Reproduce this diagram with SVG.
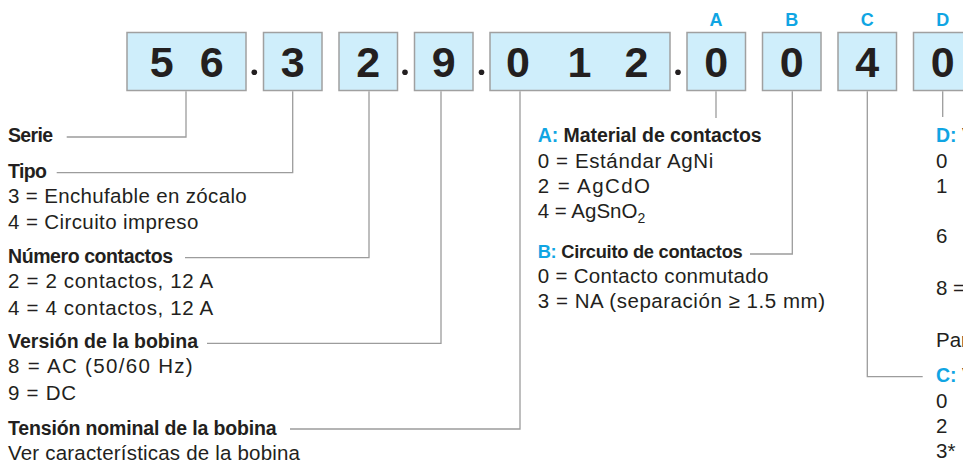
<svg xmlns="http://www.w3.org/2000/svg" width="963" height="467" viewBox="0 0 963 467">
<style>
.box{fill:#cfeefb;stroke:#a0a0a0;stroke-width:1.5}
.dig{font-family:"Liberation Sans",Arial,sans-serif;font-weight:bold;font-size:43px;fill:#231f20;text-anchor:middle}
.lbl{font-family:"Liberation Sans",Arial,sans-serif;font-weight:bold;font-size:18px;fill:#10a5e3;text-anchor:middle}
.t{font-family:"Liberation Sans",Arial,sans-serif;font-size:20.5px;fill:#231f20}
.h{font-family:"Liberation Sans",Arial,sans-serif;font-weight:bold;font-size:19.5px;fill:#231f20}
.hs{font-size:18.3px}
.b{fill:#10a5e3}
.dot{fill:#231f20}
.ln{fill:none;stroke:#9c9c9c;stroke-width:1.3}
</style>
<rect width="963" height="467" fill="#ffffff"/>
<g id="code">
  <g id="box-serie"><rect class="box" x="127" y="32.5" width="119" height="58"/><text class="dig" x="161.7" y="77.3">5</text><text class="dig" x="211.7" y="77.3">6</text></g>
  <circle class="dot" cx="254.3" cy="72.3" r="2.8"/>
  <g id="box-tipo"><rect class="box" x="263.5" y="32.5" width="58.5" height="58"/><text class="dig" x="292.7" y="77.3">3</text></g>
  <g id="box-numero"><rect class="box" x="339" y="32.5" width="58.5" height="58"/><text class="dig" x="368.2" y="77.3">2</text></g>
  <circle class="dot" cx="405" cy="72.3" r="2.8"/>
  <g id="box-version"><rect class="box" x="414.5" y="32.5" width="58.5" height="58"/><text class="dig" x="443.7" y="77.3">9</text></g>
  <circle class="dot" cx="481.5" cy="72.3" r="2.8"/>
  <g id="box-tension"><rect class="box" x="490" y="32.5" width="180" height="58"/><text class="dig" x="518" y="77.3">0</text><text class="dig" x="579.5" y="77.3">1</text><text class="dig" x="636.5" y="77.3">2</text></g>
  <circle class="dot" cx="678" cy="72.3" r="2.8"/>
  <g id="box-a"><text class="lbl" x="716" y="25.7">A</text><rect class="box" x="687" y="32.5" width="58.5" height="58"/><text class="dig" x="716.2" y="77.3">0</text></g>
  <g id="box-b"><text class="lbl" x="791.7" y="25.7">B</text><rect class="box" x="762.5" y="32.5" width="58.5" height="58"/><text class="dig" x="791.7" y="77.3">0</text></g>
  <g id="box-c"><text class="lbl" x="867.3" y="25.7">C</text><rect class="box" x="838" y="32.5" width="58.5" height="58"/><text class="dig" x="867.3" y="77.3">4</text></g>
  <g id="box-d"><text class="lbl" x="942.7" y="25.7">D</text><rect class="box" x="913.5" y="32.5" width="58.5" height="58"/><text class="dig" x="942.7" y="77.3">0</text></g>
</g>
<g id="connectors">
  <path class="ln" d="M186,91.3 V137 H66.7"/>
  <path class="ln" d="M292.7,91.3 V172.7 H56.7"/>
  <path class="ln" d="M369,91.3 V257.7 H185"/>
  <path class="ln" d="M441,91.3 V343.3 H207"/>
  <path class="ln" d="M520,91.3 V429 H290"/>
  <path class="ln" d="M716,91.3 V118"/>
  <path class="ln" d="M792.3,91.3 V254 H750"/>
  <path class="ln" d="M867.3,91.3 V376.7 H922.7"/>
  <path class="ln" d="M942.7,91.3 V117"/>
</g>
<g id="serie"><text class="h" x="8" y="142.3" textLength="45" lengthAdjust="spacing">Serie</text></g>
<g id="tipo">
  <text class="h" x="8" y="178" textLength="39" lengthAdjust="spacing">Tipo</text>
  <text class="t" x="8" y="203.3" textLength="238.7" lengthAdjust="spacing">3 = Enchufable en zócalo</text>
  <text class="t" x="8" y="229" textLength="190.3" lengthAdjust="spacing">4 = Circuito impreso</text>
</g>
<g id="numero">
  <text class="h" x="8" y="263.3" textLength="165" lengthAdjust="spacing">Número contactos</text>
  <text class="t" x="8" y="288.3" textLength="205.3" lengthAdjust="spacing">2 = 2 contactos, 12 A</text>
  <text class="t" x="8" y="314.5" textLength="205.3" lengthAdjust="spacing">4 = 4 contactos, 12 A</text>
</g>
<g id="version">
  <text class="h" x="8" y="348.3" textLength="190" lengthAdjust="spacing">Versión de la bobina</text>
  <text class="t" x="8" y="373.3" textLength="184.7" lengthAdjust="spacing">8 = AC (50/60 Hz)</text>
  <text class="t" x="8" y="399.5" textLength="68" lengthAdjust="spacing">9 = DC</text>
</g>
<g id="tension">
  <text class="h" x="8" y="435" textLength="268.7" lengthAdjust="spacing">Tensión nominal de la bobina</text>
  <text class="t" x="8" y="460" textLength="292" lengthAdjust="spacing">Ver características de la bobina</text>
</g>
<g id="material">
  <text class="h" x="537.7" y="142.3" textLength="224" lengthAdjust="spacing"><tspan class="b">A:</tspan> Material de contactos</text>
  <text class="t" x="537.7" y="168.3" textLength="175.6" lengthAdjust="spacing">0 = Estándar AgNi</text>
  <text class="t" x="537.7" y="193.3" textLength="112.3" lengthAdjust="spacing">2 = AgCdO</text>
  <text class="t" x="537.7" y="218.3">4 = AgSnO<tspan style="font-size:14px" dy="5">2</tspan></text>
</g>
<g id="circuito">
  <text class="h hs" x="537.7" y="258.3" textLength="205" lengthAdjust="spacing"><tspan class="b">B:</tspan> Circuito de contactos</text>
  <text class="t" x="537.7" y="283.3" textLength="230.6" lengthAdjust="spacing">0 = Contacto conmutado</text>
  <text class="t" x="537.7" y="308.3" textLength="287.3" lengthAdjust="spacing">3 = NA (separación ≥ 1.5 mm)</text>
</g>
<g id="d-col">
  <text class="h" x="936" y="142.3"><tspan class="b">D:</tspan> V</text>
  <text class="t" x="936" y="168.3">0</text>
  <text class="t" x="936" y="193.3">1</text>
  <text class="t" x="936" y="243.3">6</text>
  <text class="t" x="936" y="295">8 =</text>
  <text class="t" x="936" y="346.7">Par</text>
</g>
<g id="c-col">
  <text class="h" x="936" y="381.7"><tspan class="b">C:</tspan> V</text>
  <text class="t" x="936" y="408">0</text>
  <text class="t" x="936" y="433">2</text>
  <text class="t" x="936" y="458">3*</text>
</g>
</svg>
